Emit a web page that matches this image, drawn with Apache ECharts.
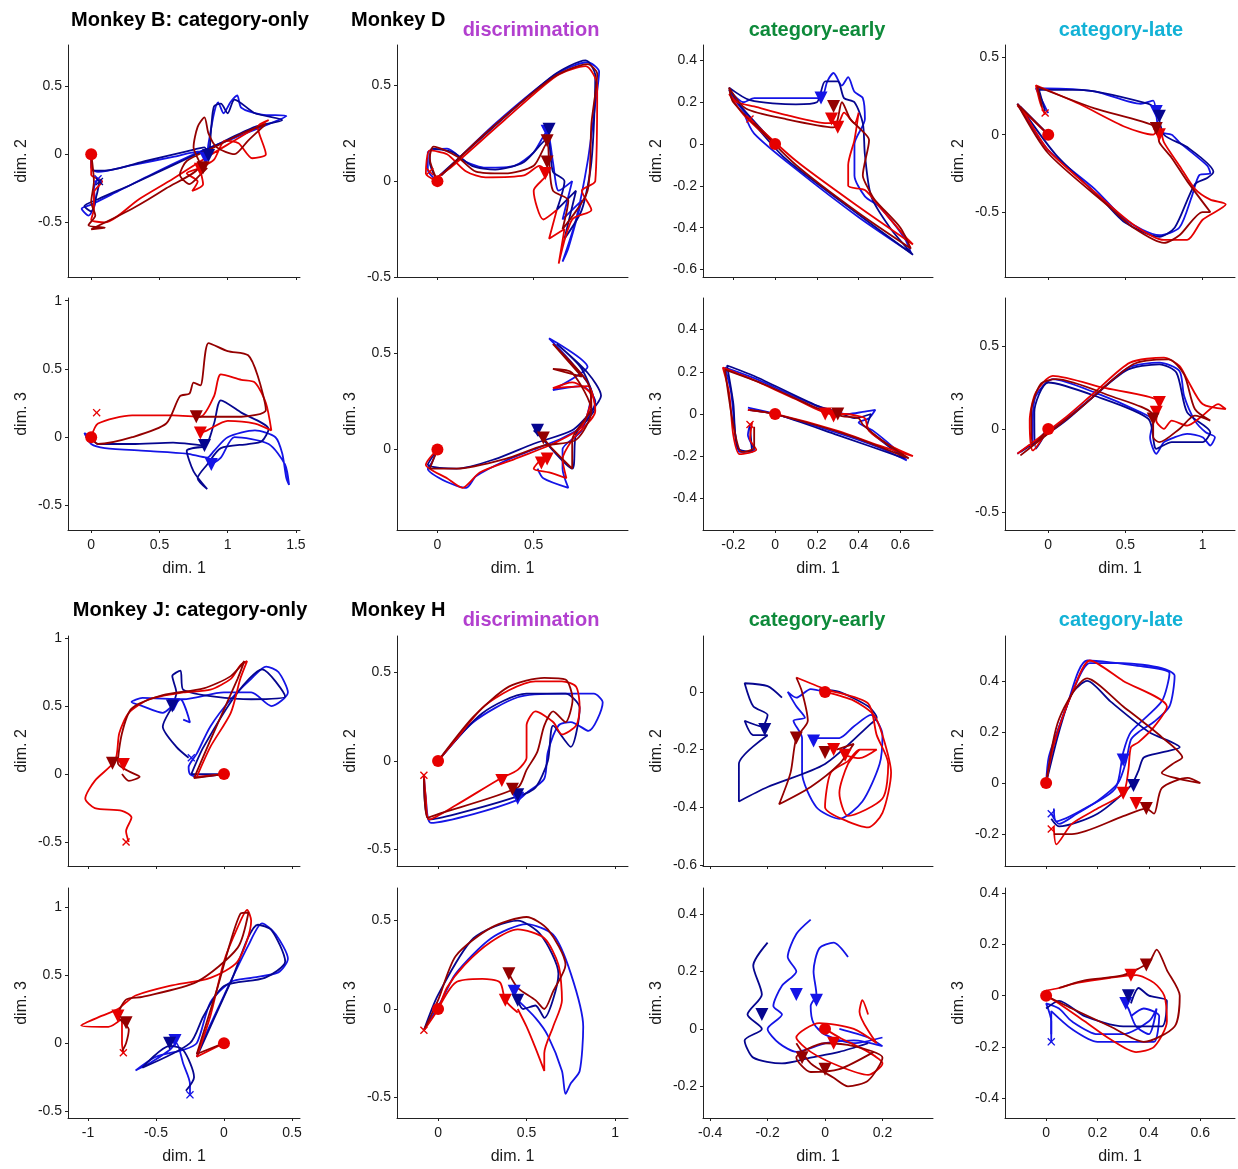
<!DOCTYPE html>
<html>
<head>
<meta charset="utf-8">
<script src="https://cdn.jsdelivr.net/npm/echarts@6/dist/echarts.min.js"></script>
<style>
  html, body { margin: 0; padding: 0; background: #fff; }
  #chart { width: 1238px; height: 1169px; }
</style>
</head>
<body>
<div id="chart"></div>
<script>
// ---- trajectories (dim. x, dim. y) ----
// Monkey B, dims 1-2
const r1c1_blue = [[0,0],[0,-0.1],[0.05,-0.13],[0.3,-0.08],[0.6,-0.02],[0.8,0.02],[0.84,-0.03],[0.86,0.08],[0.9,0.3],[0.93,0.38],[0.97,0.3],[1.02,0.38],[1.07,0.43],[1.1,0.34],[1.25,0.29],[1.43,0.28],[1.3,0.22],[1.05,0.12],[0.8,0.02],[0.5,-0.12],[0.2,-0.27],[0,-0.37],[-0.07,-0.4],[-0.02,-0.45],[0.03,-0.35],[0.02,-0.25],[0.05,-0.18]];
const r1c1_navy = [[0,0],[0.01,-0.12],[0.1,-0.12],[0.4,-0.05],[0.7,0.02],[0.83,0.05],[0.86,-0.02],[0.88,0.2],[0.9,0.35],[0.95,0.37],[1.0,0.3],[1.05,0.4],[1.2,0.3],[1.4,0.25],[1.2,0.2],[0.9,0.06],[0.6,-0.08],[0.3,-0.22],[0.05,-0.33],[-0.05,-0.38],[0,-0.42],[0.04,-0.3],[0.06,-0.2]];
const r1c1_red = [[0,0],[0,-0.15],[0.08,-0.2],[0.02,-0.28],[0.02,-0.4],[0,-0.48],[0.1,-0.5],[0.35,-0.33],[0.6,-0.18],[0.85,-0.02],[1.05,0.1],[1.25,0.22],[1.3,0.25],[1.22,0.2],[1.28,0.0],[1.18,-0.03],[1.08,0.08],[0.98,0.1],[0.9,-0.04],[0.8,-0.1],[0.7,-0.14],[0.78,-0.2],[0.74,-0.27],[0.82,-0.22],[0.8,-0.12]];
const r1c1_dred = [[0,0],[0.02,-0.2],[0,-0.35],[0.03,-0.45],[-0.02,-0.52],[0.1,-0.54],[0,-0.55],[0.3,-0.4],[0.55,-0.25],[0.8,-0.08],[0.75,0.05],[0.78,0.2],[0.83,0.27],[0.86,0.15],[0.92,0.05],[1.05,0.0],[1.15,0.1],[1.28,0.22],[1.1,0.15],[0.9,0.05],[0.7,-0.05],[0.65,-0.15],[0.72,-0.22],[0.8,-0.15],[0.85,-0.1]];
const r1c1_tri = [[0.84,-0.03,'b'],[0.86,-0.01,'n'],[0.8,-0.11,'r'],[0.82,-0.1,'d']];
const r1c1_x = [[0.05,-0.18,'b'],[0.06,-0.2,'n']];

// Monkey B, dims 1-3
const r2c1_blue = [[0,0],[-0.05,0.03],[0,-0.05],[0.1,-0.08],[0.4,-0.1],[0.7,-0.12],[0.85,-0.15],[0.9,-0.1],[1.0,0.0],[1.2,0.05],[1.35,0.0],[1.4,-0.12],[1.43,-0.3],[1.45,-0.35],[1.42,-0.2],[1.3,-0.05],[1.05,0.0],[0.95,-0.15],[0.88,-0.2]];
const r2c1_navy = [[0,0],[0.05,-0.05],[0.3,-0.05],[0.6,-0.04],[0.83,-0.06],[0.9,0.1],[0.95,0.27],[1.1,0.18],[1.3,0.06],[1.25,-0.03],[1.15,-0.05],[0.95,-0.08],[0.85,-0.2],[0.78,-0.3],[0.85,-0.38],[0.75,-0.25],[0.7,-0.1],[0.83,-0.07]];
const r2c1_red = [[0,0],[0.05,0.1],[0.3,0.16],[0.6,0.16],[0.8,0.15],[0.9,0.3],[0.95,0.46],[1.1,0.42],[1.2,0.4],[1.28,0.25],[1.32,0.05],[1.2,0.1],[1.0,0.12],[0.85,0.05],[0.8,0.03]];
const r2c1_dred = [[0,0],[0.05,-0.05],[0.3,0.0],[0.55,0.1],[0.65,0.3],[0.72,0.32],[0.75,0.4],[0.8,0.38],[0.86,0.69],[1.0,0.63],[1.15,0.6],[1.22,0.45],[1.28,0.2],[1.1,0.15],[0.9,0.15],[0.77,0.15]];
const r2c1_tri = [[0.88,-0.2,'b'],[0.83,-0.06,'n'],[0.8,0.03,'r'],[0.77,0.15,'d']];
const r2c1_x = [[0.04,0.18,'r']];

// Monkey D discrimination, dims 1-2
const r1c2_blue = [[0,0],[-0.05,0.06],[-0.05,0.15],[0.05,0.17],[0.15,0.1],[0.25,0.07],[0.4,0.08],[0.5,0.15],[0.57,0.26],[0.6,0.1],[0.63,-0.05],[0.7,0.0],[0.65,-0.2],[0.75,-0.1],[0.68,-0.35],[0.65,-0.42],[0.72,-0.2],[0.78,0.1],[0.82,0.4],[0.84,0.57],[0.78,0.62],[0.62,0.56],[0.3,0.3],[0.05,0.06],[0.02,0.03]];
const r1c2_navy = [[0,0],[-0.04,0.1],[-0.03,0.17],[0.08,0.15],[0.18,0.08],[0.3,0.06],[0.45,0.1],[0.57,0.22],[0.6,0.05],[0.66,0.0],[0.62,-0.15],[0.72,-0.05],[0.66,-0.3],[0.75,-0.15],[0.8,0.1],[0.82,0.55],[0.77,0.63],[0.6,0.55],[0.2,0.2],[0,0.02]];
const r1c2_red = [[0,0],[-0.06,0.04],[-0.04,0.16],[0.05,0.14],[0.15,0.05],[0.25,0.02],[0.45,0.03],[0.53,0.08],[0.57,0.04],[0.5,-0.05],[0.55,-0.2],[0.62,-0.15],[0.58,-0.3],[0.66,-0.25],[0.63,-0.43],[0.7,-0.2],[0.8,-0.15],[0.75,-0.05],[0.82,0.0],[0.83,0.5],[0.77,0.6],[0.62,0.55],[0.35,0.32],[0.08,0.08],[0,0.02]];
const r1c2_dred = [[0,0],[-0.04,0.12],[-0.02,0.18],[0.1,0.13],[0.2,0.05],[0.35,0.04],[0.5,0.08],[0.57,0.2],[0.58,0.1],[0.6,-0.05],[0.68,-0.1],[0.65,-0.25],[0.78,-0.05],[0.8,0.3],[0.83,0.56],[0.78,0.61],[0.6,0.54],[0.25,0.25],[0.02,0.03]];
const r1c2_tri = [[0.57,0.26,'b'],[0.58,0.27,'n'],[0.57,0.21,'d'],[0.57,0.1,'d'],[0.56,0.04,'r']];
const r1c2_x = [[-0.04,0.05,'r']];

// Monkey D discrimination, dims 1-3
const r2c2_blue = [[0,0],[-0.03,-0.07],[-0.05,-0.1],[0.05,-0.17],[0.15,-0.2],[0.2,-0.14],[0.35,-0.06],[0.5,0.0],[0.65,0.06],[0.75,0.12],[0.82,0.25],[0.75,0.33],[0.6,0.31],[0.72,0.38],[0.78,0.43],[0.58,0.58],[0.7,0.45],[0.8,0.3],[0.75,0.1],[0.65,0.0],[0.65,-0.1],[0.68,-0.2],[0.55,-0.15],[0.52,-0.1]];
const r2c2_navy = [[0,0],[-0.05,-0.08],[0.1,-0.1],[0.3,-0.05],[0.5,0.03],[0.7,0.1],[0.8,0.2],[0.85,0.28],[0.78,0.4],[0.62,0.55],[0.75,0.42],[0.82,0.22],[0.72,0.08],[0.7,-0.1],[0.55,0.05],[0.5,0.1]];
const r2c2_red = [[0,0],[-0.06,-0.08],[0.05,-0.15],[0.13,-0.2],[0.22,-0.12],[0.4,-0.05],[0.6,0.03],[0.75,0.12],[0.8,0.28],[0.7,0.35],[0.6,0.32],[0.78,0.33],[0.82,0.2],[0.7,0.05],[0.65,-0.05],[0.67,-0.15],[0.58,-0.12],[0.5,-0.1],[0.55,-0.04]];
const r2c2_dred = [[0,0],[-0.04,-0.1],[0.1,-0.1],[0.35,-0.05],[0.55,0.02],[0.72,0.05],[0.8,0.2],[0.7,0.4],[0.6,0.42],[0.75,0.38],[0.6,0.55],[0.78,0.35],[0.8,0.22],[0.7,0.05],[0.7,-0.1],[0.6,0.0],[0.55,0.06]];
const r2c2_tri = [[0.52,0.1,'n'],[0.55,0.06,'d'],[0.57,-0.05,'r'],[0.54,-0.07,'r']];
const r2c2_x = [];

// Monkey D category-early, dims 1-2
const r1c3_blue = [[0,0],[-0.1,0.1],[-0.2,0.22],[-0.22,0.26],[-0.15,0.2],[-0.1,0.22],[0.1,0.22],[0.22,0.22],[0.25,0.3],[0.28,0.34],[0.32,0.28],[0.35,0.32],[0.38,0.25],[0.42,0.22],[0.43,0.12],[0.38,0.0],[0.38,-0.15],[0.43,-0.25],[0.5,-0.3],[0.62,-0.45],[0.65,-0.52],[0.4,-0.35],[0.1,-0.12],[-0.1,0.05],[-0.15,0.15]];
const r1c3_navy = [[0,0],[-0.18,0.2],[-0.22,0.27],[-0.12,0.21],[0.1,0.19],[0.2,0.2],[0.24,0.3],[0.3,0.3],[0.33,0.22],[0.38,0.2],[0.42,0.1],[0.43,-0.05],[0.46,-0.25],[0.55,-0.4],[0.66,-0.53],[0.35,-0.3],[0.05,-0.07],[-0.12,0.12]];
const r1c3_red = [[0,0],[-0.15,0.14],[-0.22,0.24],[-0.18,0.2],[-0.1,0.18],[0.05,0.14],[0.25,0.1],[0.3,0.1],[0.33,0.15],[0.38,0.1],[0.4,0.15],[0.38,0.02],[0.35,-0.1],[0.35,-0.2],[0.43,-0.22],[0.5,-0.3],[0.63,-0.45],[0.66,-0.48],[0.4,-0.3],[0.1,-0.08],[-0.12,0.12]];
const r1c3_dred = [[0,0],[-0.2,0.2],[-0.22,0.27],[-0.14,0.17],[0.05,0.12],[0.28,0.08],[0.32,0.2],[0.36,0.12],[0.4,0.08],[0.45,0.02],[0.42,-0.15],[0.45,-0.22],[0.48,-0.27],[0.6,-0.4],[0.65,-0.5],[0.4,-0.33],[0.1,-0.1],[-0.1,0.1]];
const r1c3_tri = [[0.22,0.22,'b'],[0.28,0.18,'d'],[0.27,0.12,'r'],[0.3,0.08,'r']];
const r1c3_x = [[-0.12,0.12,'r']];

// Monkey D category-early, dims 1-3
const r2c3_blue = [[-0.13,0.03],[0,0],[0.3,-0.09],[0.5,-0.16],[0.63,-0.22],[0.58,-0.17],[0.47,-0.08],[0.4,-0.04],[0.45,-0.02],[0.48,0.02],[0.42,0.01],[0.35,0.0],[0.25,0.02],[0.1,0.08],[-0.1,0.17],[-0.24,0.22],[-0.21,0.1],[-0.19,-0.1],[-0.17,-0.18],[-0.1,-0.17],[-0.13,-0.1],[-0.12,-0.05]];
const r2c3_navy = [[-0.13,0.02],[0,0],[0.3,-0.1],[0.62,-0.21],[0.5,-0.12],[0.44,-0.06],[0.46,0.0],[0.38,-0.02],[0.3,0.01],[0.2,0.04],[-0.1,0.18],[-0.23,0.23],[-0.2,0.05],[-0.18,-0.16],[-0.11,-0.18],[-0.12,-0.06]];
const r2c3_red = [[-0.13,0.02],[0,0],[0.3,-0.08],[0.5,-0.15],[0.66,-0.2],[0.55,-0.15],[0.45,-0.08],[0.43,-0.02],[0.4,-0.01],[0.34,0.0],[0.27,0.0],[0.1,0.07],[-0.1,0.16],[-0.25,0.22],[-0.22,0.1],[-0.2,-0.1],[-0.17,-0.19],[-0.09,-0.17],[-0.12,-0.12],[-0.11,-0.04]];
const r2c3_dred = [[-0.12,0.02],[0,0],[0.35,-0.1],[0.64,-0.21],[0.52,-0.13],[0.42,-0.05],[0.4,-0.02],[0.32,-0.01],[0.22,0.02],[-0.05,0.14],[-0.24,0.21],[-0.2,-0.05],[-0.16,-0.18],[-0.1,-0.16],[-0.1,-0.06]];
const r2c3_tri = [[0.24,0.0,'r'],[0.28,-0.01,'r'],[0.3,0.0,'d']];
const r2c3_x = [[-0.12,-0.05,'r']];

// Monkey D category-late, dims 1-2
const r1c4_blue = [[0,0],[-0.2,0.2],[-0.15,0.12],[0,-0.1],[0.3,-0.35],[0.5,-0.55],[0.72,-0.65],[0.85,-0.6],[0.93,-0.4],[0.98,-0.26],[1.05,-0.25],[1.03,-0.2],[0.85,-0.05],[0.8,0.0],[0.72,0.02],[0.7,0.13],[0.68,0.22],[0.6,0.2],[0.3,0.28],[-0.02,0.3],[-0.08,0.3],[-0.03,0.2],[0,0.14]];
const r1c4_navy = [[0,0],[-0.18,0.18],[0.05,-0.13],[0.35,-0.42],[0.5,-0.57],[0.72,-0.66],[0.82,-0.6],[0.95,-0.32],[1.03,-0.28],[1.07,-0.24],[0.9,-0.08],[0.75,0.0],[0.7,0.16],[0.65,0.2],[0.2,0.29],[-0.06,0.29],[-0.02,0.15]];
const r1c4_red = [[0,0],[-0.2,0.19],[-0.15,0.13],[0,-0.1],[0.3,-0.37],[0.55,-0.58],[0.75,-0.68],[0.9,-0.68],[1.0,-0.55],[1.15,-0.45],[1.05,-0.42],[0.95,-0.35],[0.85,-0.2],[0.75,-0.05],[0.72,0.05],[0.68,0.0],[0.5,0.05],[0.2,0.2],[-0.08,0.32],[-0.05,0.2],[-0.02,0.13]];
const r1c4_dred = [[0,0],[-0.2,0.2],[0,-0.12],[0.4,-0.47],[0.55,-0.6],[0.75,-0.7],[0.85,-0.65],[1.0,-0.5],[1.05,-0.5],[0.9,-0.3],[0.8,-0.15],[0.72,-0.05],[0.7,0.05],[0.3,0.17],[-0.07,0.31],[-0.04,0.18]];
const r1c4_tri = [[0.7,0.15,'b'],[0.72,0.12,'n'],[0.72,0.0,'r'],[0.7,0.04,'d']];
const r1c4_x = [[-0.02,0.14,'r']];

// Monkey D category-late, dims 1-3
const r2c4_blue = [[0,0],[-0.1,-0.1],[-0.1,0.05],[-0.08,0.2],[0.03,0.3],[0.3,0.22],[0.6,0.1],[0.68,0.05],[0.66,-0.05],[0.7,-0.15],[0.75,-0.08],[0.82,-0.05],[0.9,-0.03],[1.0,-0.05],[1.05,-0.1],[1.08,-0.05],[1.02,-0.02],[0.95,0.05],[0.88,0.2],[0.85,0.35],[0.72,0.4],[0.52,0.37],[0.3,0.2],[0.1,0.05],[-0.2,-0.15]];
const r2c4_navy = [[0,0],[-0.08,-0.12],[-0.09,0.1],[0.0,0.28],[0.3,0.2],[0.65,0.06],[0.7,-0.12],[0.8,-0.08],[1.0,-0.08],[1.05,-0.02],[0.9,0.1],[0.83,0.34],[0.72,0.39],[0.5,0.35],[0.1,0.04],[-0.18,-0.14]];
const r2c4_red = [[0,0],[-0.1,-0.13],[-0.12,0.05],[-0.08,0.22],[0.03,0.32],[0.35,0.25],[0.72,0.16],[0.7,0.05],[0.75,0.0],[0.8,0.05],[0.9,0.02],[1.0,0.08],[1.1,0.15],[1.15,0.12],[1.0,0.15],[0.9,0.3],[0.85,0.38],[0.75,0.43],[0.53,0.4],[0.3,0.22],[0.1,0.06],[-0.2,-0.15]];
const r2c4_dred = [[0,0],[-0.1,-0.1],[-0.11,0.1],[-0.05,0.27],[0.05,0.3],[0.4,0.2],[0.68,0.08],[0.68,-0.05],[0.72,-0.08],[0.85,0.0],[0.95,0.08],[1.05,0.05],[0.95,0.12],[0.88,0.33],[0.78,0.42],[0.55,0.39],[0.2,0.12],[-0.18,-0.16]];
const r2c4_tri = [[0.72,0.16,'r'],[0.7,0.1,'r'],[0.68,0.06,'d']];
const r2c4_x = [];

// Monkey J category-only, dims 1-2
const r3c1_blue = [[0,0],[-0.2,-0.02],[-0.25,0.0],[-0.26,0.05],[-0.2,0.15],[-0.1,0.35],[0.05,0.55],[0.2,0.7],[0.31,0.79],[0.4,0.75],[0.47,0.6],[0.35,0.5],[0.2,0.6],[0,0.6],[-0.3,0.55],[-0.6,0.56],[-0.68,0.53],[-0.6,0.5],[-0.45,0.45],[-0.38,0.5],[-0.32,0.55],[-0.25,0.38],[-0.3,0.4]];
const r3c1_navy = [[0,0],[-0.24,0.0],[-0.15,0.2],[0.1,0.6],[0.28,0.77],[0.45,0.57],[0.2,0.55],[-0.3,0.62],[-0.32,0.76],[-0.38,0.72],[-0.35,0.6],[-0.38,0.5],[-0.45,0.35],[-0.35,0.2],[-0.26,0.12]];
const r3c1_red = [[0,0],[-0.2,-0.02],[-0.1,0.2],[0.05,0.45],[0.12,0.7],[0.17,0.83],[0.12,0.8],[0.05,0.7],[-0.1,0.62],[-0.3,0.6],[-0.55,0.55],[-0.7,0.45],[-0.77,0.3],[-0.8,0.1],[-0.95,-0.05],[-1.02,-0.18],[-0.95,-0.25],[-0.75,-0.27],[-0.68,-0.32],[-0.72,-0.42],[-0.7,-0.5]];
const r3c1_dred = [[0,0],[-0.22,-0.03],[-0.1,0.25],[0.1,0.7],[0.15,0.83],[0.05,0.72],[-0.15,0.63],[-0.45,0.58],[-0.68,0.48],[-0.75,0.3],[-0.78,0.08],[-0.7,0.02],[-0.62,-0.02],[-0.7,-0.05],[-0.75,0.0]];
const r3c1_tri = [[-0.37,0.51,'b'],[-0.38,0.5,'n'],[-0.74,0.07,'r'],[-0.82,0.08,'d']];
const r3c1_x = [[-0.24,0.12,'b'],[-0.72,-0.5,'r']];

// Monkey J category-only, dims 1-3
const r4c1_blue = [[-0.2,-0.08],[0,0.35],[0.18,0.72],[0.28,0.88],[0.38,0.8],[0.47,0.62],[0.4,0.52],[0.2,0.48],[0.05,0.45],[-0.1,0.3],[-0.2,0],[-0.3,-0.05],[-0.5,-0.1],[-0.65,-0.2],[-0.55,-0.15],[-0.4,-0.05],[-0.35,0],[-0.3,-0.15],[-0.25,-0.3],[-0.25,-0.38]];
const r4c1_navy = [[-0.2,-0.1],[0.05,0.45],[0.25,0.87],[0.35,0.83],[0.45,0.6],[0.3,0.48],[0,0.42],[-0.15,0.2],[-0.25,0],[-0.6,-0.18],[-0.4,-0.02],[-0.3,-0.05],[-0.22,-0.25],[-0.28,-0.35]];
const r4c1_red = [[0,0],[-0.2,-0.1],[-0.1,0.2],[0,0.6],[0.1,0.85],[0.17,0.98],[0.2,0.9],[0.1,0.6],[-0.1,0.48],[-0.4,0.42],[-0.65,0.35],[-0.72,0.3],[-0.78,0.25],[-0.9,0.2],[-1.05,0.13],[-0.85,0.12],[-0.75,0.18],[-0.75,0],[-0.74,-0.07]];
const r4c1_dred = [[0,0],[-0.2,-0.08],[-0.05,0.4],[0.12,0.95],[0.18,0.96],[0.1,0.7],[-0.2,0.45],[-0.6,0.34],[-0.72,0.32],[-0.78,0.2],[-0.7,0.1],[-0.72,0],[-0.75,-0.06]];
const r4c1_tri = [[-0.36,0.02,'b'],[-0.4,0.0,'n'],[-0.78,0.2,'r'],[-0.72,0.15,'d']];
const r4c1_x = [[-0.25,-0.38,'b'],[-0.74,-0.07,'r']];

// Monkey H discrimination, dims 1-2
const r3c2_blue = [[0,0],[0.2,0.22],[0.45,0.36],[0.7,0.38],[0.88,0.38],[0.93,0.33],[0.85,0.17],[0.75,0.22],[0.68,0.2],[0.62,0.05],[0.6,-0.1],[0.5,-0.18],[0.45,-0.22],[0.2,-0.3],[-0.04,-0.35],[-0.07,-0.2],[-0.08,-0.08]];
const r3c2_navy = [[0,0],[0.25,0.27],[0.5,0.38],[0.72,0.38],[0.8,0.3],[0.75,0.08],[0.65,0.2],[0.62,0],[0.55,-0.15],[0.45,-0.2],[0.1,-0.3],[-0.05,-0.33],[-0.08,-0.1]];
const r3c2_red = [[0,0],[0.1,0.12],[0.25,0.3],[0.4,0.4],[0.55,0.45],[0.7,0.45],[0.78,0.42],[0.8,0.3],[0.78,0.2],[0.7,0.15],[0.65,0.22],[0.55,0.28],[0.5,0.2],[0.5,0.02],[0.45,-0.05],[0.35,-0.1],[0.1,-0.25],[-0.05,-0.33],[-0.07,-0.2],[-0.08,-0.08]];
const r3c2_dred = [[0,0],[0.2,0.25],[0.4,0.42],[0.6,0.47],[0.72,0.46],[0.76,0.35],[0.72,0.22],[0.65,0.28],[0.6,0.2],[0.56,0.05],[0.5,-0.05],[0.45,-0.15],[0,-0.3],[-0.06,-0.32],[-0.08,-0.1]];
const r3c2_tri = [[0.45,-0.21,'b'],[0.45,-0.19,'n'],[0.36,-0.11,'r'],[0.42,-0.16,'d']];
const r3c2_x = [[-0.08,-0.08,'r']];

// Monkey H discrimination, dims 1-3
const r4c2_blue = [[-0.08,-0.12],[0.02,0.05],[0.1,0.2],[0.3,0.4],[0.5,0.48],[0.65,0.42],[0.75,0.2],[0.82,-0.1],[0.8,-0.35],[0.75,-0.42],[0.72,-0.48],[0.7,-0.35],[0.62,-0.15],[0.55,-0.05],[0.45,0.05]];
const r4c2_navy = [[-0.08,-0.12],[0,0.08],[0.2,0.4],[0.45,0.5],[0.58,0.42],[0.68,0.2],[0.6,-0.05],[0.55,0.02],[0.48,0],[0.45,0.05]];
const r4c2_red = [[-0.08,-0.12],[0,0],[0.05,0.12],[0.15,0.25],[0.3,0.38],[0.45,0.45],[0.6,0.4],[0.68,0.25],[0.7,0.05],[0.65,-0.1],[0.6,-0.25],[0.6,-0.35],[0.55,-0.22],[0.5,-0.1],[0.45,0]];
const r4c2_red2 = [[0,0],[0.1,0.15],[0.25,0.17],[0.35,0.15],[0.38,0.05],[0.45,-0.02]];
const r4c2_dred = [[-0.08,-0.12],[0,0.05],[0.1,0.3],[0.3,0.46],[0.5,0.52],[0.62,0.45],[0.72,0.25],[0.65,0.1],[0.6,0],[0.55,0.05],[0.45,0.12],[0.4,0.2]];
const r4c2_tri = [[0.43,0.1,'b'],[0.45,0.05,'n'],[0.38,0.05,'r'],[0.4,0.2,'d']];
const r4c2_x = [[-0.08,-0.12,'r']];

// Monkey H category-early, dims 1-2
const r3c3_blue = [[0,0],[-0.05,0.01],[-0.1,-0.02],[-0.13,0],[-0.1,-0.05],[-0.07,-0.09],[-0.11,-0.1],[-0.08,-0.16],[-0.08,-0.28],[-0.03,-0.4],[0.05,-0.44],[0.13,-0.38],[0.19,-0.25],[0.2,-0.15],[0.16,-0.08],[0.1,-0.12],[0.05,-0.16],[-0.04,-0.16]];
const r3c3_navy = [[-0.15,-0.02],[-0.2,0.02],[-0.28,0.03],[-0.25,-0.05],[-0.2,-0.08],[-0.22,-0.12],[-0.28,-0.1],[-0.25,-0.15],[-0.2,-0.15],[-0.3,-0.25],[-0.3,-0.38],[-0.2,-0.33],[0,-0.25],[0.16,-0.11],[0.18,-0.09],[0.15,-0.05],[0.05,0],[-0.02,0.01]];
const r3c3_red = [[0,0],[0.1,-0.03],[0.17,-0.08],[0.2,-0.15],[0.23,-0.28],[0.2,-0.42],[0.15,-0.47],[0.08,-0.45],[0,-0.4],[0.02,-0.28],[0.08,-0.24],[0.12,-0.2],[0.18,-0.2],[0.12,-0.23],[0.07,-0.22]];
const r3c3_red2 = [[-0.1,0.05],[0,0.01],[0.15,-0.04],[0.18,-0.15],[0.22,-0.25],[0.2,-0.37],[0.08,-0.43],[0.05,-0.35],[0.08,-0.25],[0.12,-0.2]];
const r3c3_dred = [[-0.1,0.05],[-0.08,0],[-0.06,-0.1],[-0.1,-0.16],[-0.12,-0.28],[-0.16,-0.39],[-0.05,-0.33],[0.05,-0.25],[0.1,-0.18],[0.04,-0.2]];
const r3c3_tri = [[-0.21,-0.13,'n'],[-0.04,-0.17,'b'],[-0.1,-0.16,'d'],[0.0,-0.21,'d'],[0.03,-0.2,'r'],[0.07,-0.22,'r']];
const r3c3_x = [];

// Monkey H category-early, dims 1-3
const r4c3_blue = [[-0.05,0.38],[-0.1,0.33],[-0.13,0.25],[-0.1,0.2],[-0.15,0.15],[-0.18,0.08],[-0.15,0.05],[-0.2,0],[-0.16,-0.05],[-0.1,-0.08],[0,-0.05],[0.1,-0.04],[0.2,-0.06],[0.15,-0.03],[0.05,0]];
const r4c3_blue2 = [[0.08,0.25],[0.03,0.3],[-0.02,0.28],[-0.04,0.2],[-0.03,0.12],[-0.05,0.08],[-0.04,0.02],[0,-0.02],[0.1,-0.05],[0.2,-0.03]];
const r4c3_navy = [[-0.2,0.3],[-0.25,0.22],[-0.22,0.12],[-0.27,0.05],[-0.22,0],[-0.28,-0.04],[-0.25,-0.1],[-0.15,-0.12],[-0.05,-0.1],[0.05,-0.08],[0.15,-0.05]];
const r4c3_red = [[0,0],[0.05,-0.03],[0.15,-0.08],[0.2,-0.12],[0.15,-0.16],[0.05,-0.13],[-0.05,-0.08],[-0.1,-0.03],[-0.02,0.02],[0.1,0],[0.18,-0.05],[0.12,0.06],[0.13,0.1],[0.15,0.05]];
const r4c3_dred = [[-0.1,-0.05],[-0.05,-0.12],[0.03,-0.17],[0.08,-0.2],[0.15,-0.18],[0.2,-0.1],[0.1,-0.06],[0,-0.05],[-0.1,-0.1],[-0.05,-0.15],[0.05,-0.14],[0.17,-0.08]];
const r4c3_tri = [[-0.22,0.05,'n'],[-0.1,0.12,'b'],[-0.03,0.1,'b'],[0.03,-0.05,'r'],[-0.08,-0.1,'d'],[0.0,-0.14,'d']];
const r4c3_x = [];

// Monkey H category-late, dims 1-2
const r3c4_blue = [[0,0],[0.01,0.1],[0.05,0.22],[0.1,0.35],[0.17,0.47],[0.3,0.47],[0.45,0.45],[0.5,0.42],[0.48,0.3],[0.42,0.24],[0.36,0.2],[0.33,0.17],[0.31,0.08],[0.28,0],[0.2,-0.07],[0.12,-0.12],[0.05,-0.16],[0.02,-0.12]];
const r3c4_blue2 = [[0,0],[0.03,0.15],[0.08,0.3],[0.16,0.48],[0.35,0.46],[0.48,0.43],[0.45,0.32],[0.33,0.2],[0.3,0.12],[0.27,-0.02],[0.15,-0.1],[0.04,-0.15],[0.03,-0.1]];
const r3c4_navy = [[0,0],[0.05,0.2],[0.1,0.35],[0.16,0.4],[0.25,0.32],[0.4,0.2],[0.52,0.14],[0.45,0.12],[0.38,0.1],[0.36,0.05],[0.33,-0.01],[0.2,-0.12],[0.05,-0.17],[0.02,-0.14]];
const r3c4_red = [[0,0],[0.03,0.15],[0.1,0.35],[0.17,0.48],[0.3,0.4],[0.47,0.3],[0.42,0.22],[0.36,0.16],[0.33,0.14],[0.32,0.05],[0.3,-0.04],[0.2,-0.1],[0.1,-0.16],[0.04,-0.24],[0.03,-0.17]];
const r3c4_dred = [[0,0],[0.05,0.25],[0.16,0.41],[0.3,0.3],[0.45,0.18],[0.53,0.1],[0.5,0.08],[0.45,0.04],[0.6,0],[0.55,0.02],[0.45,-0.02],[0.42,-0.12],[0.39,-0.1],[0.3,-0.13],[0.1,-0.2],[0.03,-0.2]];
const r3c4_tri = [[0.3,0.09,'b'],[0.34,-0.01,'n'],[0.3,-0.04,'r'],[0.35,-0.08,'r'],[0.39,-0.1,'d']];
const r3c4_x = [[0.02,-0.12,'b'],[0.02,-0.18,'r']];

// Monkey H category-late, dims 1-3
const r4c4_blue = [[0.02,-0.18],[0.02,-0.1],[0,-0.03],[0.05,-0.05],[0.1,-0.1],[0.2,-0.15],[0.3,-0.15],[0.4,-0.1],[0.43,-0.05],[0.4,-0.15],[0.35,-0.12],[0.32,-0.05],[0.3,-0.02]];
const r4c4_blue2 = [[0.02,-0.15],[0.02,-0.06],[0.1,-0.13],[0.2,-0.18],[0.35,-0.18],[0.42,-0.18],[0.44,-0.08],[0.38,-0.05],[0.33,-0.08]];
const r4c4_navy = [[0,-0.05],[0.05,-0.02],[0.15,-0.08],[0.3,-0.12],[0.45,-0.12],[0.47,-0.02],[0.4,0],[0.36,0.03],[0.33,-0.03]];
const r4c4_red = [[0,0],[0.05,-0.03],[0.15,-0.1],[0.25,-0.17],[0.35,-0.22],[0.42,-0.2],[0.47,-0.1],[0.46,0],[0.42,0.05],[0.35,0.08],[0.25,0.07],[0.12,0.05],[0.05,0.03],[0,0.02]];
const r4c4_dred = [[0,0],[0.1,-0.05],[0.25,-0.12],[0.38,-0.18],[0.5,-0.12],[0.52,0],[0.47,0.1],[0.43,0.18],[0.4,0.13],[0.3,0.08],[0.15,0.06],[0.05,0.03]];
const r4c4_tri = [[0.31,-0.03,'b'],[0.32,0.0,'n'],[0.33,0.08,'r'],[0.39,0.12,'d']];
const r4c4_x = [[0.02,-0.18,'b']];

// ---- tick labels ----
const ticksB_x = [0, 0.5, 1, 1.5];
const ticksJ_x = [-1, -0.5, 0, 0.5];
const ticksDisc_x = [0, 0.5];
const ticksDiscH_x = [0, 0.5, 1];
const ticksEarlyD_x = [-0.2, 0, 0.2, 0.4, 0.6];
const ticksEarlyH_x = [-0.4, -0.2, 0, 0.2];
const ticksLateD_x = [0, 0.5, 1];
const ticksLateH_x = [0, 0.2, 0.4, 0.6];
const ticksHalf = [-0.5, 0, 0.5];
const ticksHalfOne = [-0.5, 0, 0.5, 1];
const ticksDiscD13_y = [0, 0.5];
const ticksEarlyD12_y = [-0.6, -0.4, -0.2, 0, 0.2, 0.4];
const ticksEarlyD13_y = [-0.4, -0.2, 0, 0.2, 0.4];
const ticksEarlyH12_y = [-0.6, -0.4, -0.2, 0];
const ticksEarlyH13_y = [-0.2, 0, 0.2, 0.4];
const ticksLateH12_y = [-0.2, 0, 0.2, 0.4];
const ticksLateH13_y = [-0.4, -0.2, 0, 0.2, 0.4];

// ---- layout / style ----
const COLORS = { b: '#1414e6', n: '#06068f', r: '#e60000', d: '#940000' };
const FONT = '"Liberation Sans", Arial, Helvetica, sans-serif';
const cols = [{ left: 68, w: 232 }, { left: 397, w: 231 }, { left: 703, w: 230 }, { left: 1005, w: 230 }];
const rows = [{ top: 45, h: 232 }, { top: 298, h: 232 }, { top: 636, h: 230 }, { top: 888, h: 230 }];

const panels = [
  { r: 0, c: 0, x: [-0.17, 1.53], y: [-0.9, 0.8], xt: ticksB_x, yt: ticksHalf, dim: 2, lines: [[r1c1_blue,'b'],[r1c1_navy,'n'],[r1c1_red,'r'],[r1c1_dred,'d']], tri: r1c1_tri, xm: r1c1_x, start: [0, 0] },
  { r: 1, c: 0, x: [-0.17, 1.53], y: [-0.68, 1.02], xt: ticksB_x, yt: ticksHalfOne, dim: 3, lines: [[r2c1_blue,'b'],[r2c1_navy,'n'],[r2c1_red,'r'],[r2c1_dred,'d']], tri: r2c1_tri, xm: r2c1_x, start: [0, 0] },
  { r: 0, c: 1, x: [-0.21, 0.99], y: [-0.5, 0.71], xt: ticksDisc_x, yt: ticksHalf, dim: 2, lines: [[r1c2_blue,'b'],[r1c2_navy,'n'],[r1c2_red,'r'],[r1c2_dred,'d']], tri: r1c2_tri, xm: r1c2_x, start: [0, 0] },
  { r: 1, c: 1, x: [-0.21, 0.99], y: [-0.42, 0.79], xt: ticksDisc_x, yt: ticksDiscD13_y, dim: 3, lines: [[r2c2_blue,'b'],[r2c2_navy,'n'],[r2c2_red,'r'],[r2c2_dred,'d']], tri: r2c2_tri, xm: r2c2_x, start: [0, 0] },
  { r: 0, c: 2, x: [-0.345, 0.756], y: [-0.636, 0.474], xt: ticksEarlyD_x, yt: ticksEarlyD12_y, dim: 2, lines: [[r1c3_blue,'b'],[r1c3_navy,'n'],[r1c3_red,'r'],[r1c3_dred,'d']], tri: r1c3_tri, xm: r1c3_x, start: [0, 0] },
  { r: 1, c: 2, x: [-0.345, 0.756], y: [-0.55, 0.55], xt: ticksEarlyD_x, yt: ticksEarlyD13_y, dim: 3, lines: [[r2c3_blue,'b'],[r2c3_navy,'n'],[r2c3_red,'r'],[r2c3_dred,'d']], tri: r2c3_tri, xm: r2c3_x, start: [0, 0] },
  { r: 0, c: 3, x: [-0.28, 1.21], y: [-0.92, 0.58], xt: ticksLateD_x, yt: ticksHalf, dim: 2, lines: [[r1c4_blue,'b'],[r1c4_navy,'n'],[r1c4_red,'r'],[r1c4_dred,'d']], tri: r1c4_tri, xm: r1c4_x, start: [0, 0] },
  { r: 1, c: 3, x: [-0.28, 1.21], y: [-0.61, 0.79], xt: ticksLateD_x, yt: ticksHalf, dim: 3, lines: [[r2c4_blue,'b'],[r2c4_navy,'n'],[r2c4_red,'r'],[r2c4_dred,'d']], tri: r2c4_tri, xm: r2c4_x, start: [0, 0] },
  { r: 2, c: 0, x: [-1.147, 0.559], y: [-0.676, 1.015], xt: ticksJ_x, yt: ticksHalfOne, dim: 2, lines: [[r3c1_blue,'b'],[r3c1_navy,'n'],[r3c1_red,'r'],[r3c1_dred,'d']], tri: r3c1_tri, xm: r3c1_x, start: [0, 0] },
  { r: 3, c: 0, x: [-1.147, 0.559], y: [-0.55, 1.14], xt: ticksJ_x, yt: ticksHalfOne, dim: 3, lines: [[r4c1_blue,'b'],[r4c1_navy,'n'],[r4c1_red,'r'],[r4c1_dred,'d']], tri: r4c1_tri, xm: r4c1_x, start: [0, 0] },
  { r: 2, c: 1, x: [-0.232, 1.073], y: [-0.593, 0.706], xt: ticksDiscH_x, yt: ticksHalf, dim: 2, lines: [[r3c2_blue,'b'],[r3c2_navy,'n'],[r3c2_red,'r'],[r3c2_dred,'d']], tri: r3c2_tri, xm: r3c2_x, start: [0, 0] },
  { r: 3, c: 1, x: [-0.232, 1.073], y: [-0.616, 0.684], xt: ticksDiscH_x, yt: ticksHalf, dim: 3, lines: [[r4c2_blue,'b'],[r4c2_navy,'n'],[r4c2_red,'r'],[r4c2_red2,'r'],[r4c2_dred,'d']], tri: r4c2_tri, xm: r4c2_x, start: [0, 0] },
  { r: 2, c: 2, x: [-0.425, 0.376], y: [-0.604, 0.194], xt: ticksEarlyH_x, yt: ticksEarlyH12_y, dim: 2, lines: [[r3c3_blue,'b'],[r3c3_navy,'n'],[r3c3_red,'r'],[r3c3_red2,'r'],[r3c3_dred,'d']], tri: r3c3_tri, xm: r3c3_x, start: [0, 0] },
  { r: 3, c: 2, x: [-0.425, 0.376], y: [-0.31, 0.49], xt: ticksEarlyH_x, yt: ticksEarlyH13_y, dim: 3, lines: [[r4c3_blue,'b'],[r4c3_blue2,'b'],[r4c3_navy,'n'],[r4c3_red,'r'],[r4c3_dred,'d']], tri: r4c3_tri, xm: r4c3_x, start: [0, 0] },
  { r: 2, c: 3, x: [-0.16, 0.735], y: [-0.325, 0.576], xt: ticksLateH_x, yt: ticksLateH12_y, dim: 2, lines: [[r3c4_blue,'b'],[r3c4_blue2,'b'],[r3c4_navy,'n'],[r3c4_red,'r'],[r3c4_dred,'d']], tri: r3c4_tri, xm: r3c4_x, start: [0, 0] },
  { r: 3, c: 3, x: [-0.16, 0.735], y: [-0.477, 0.42], xt: ticksLateH_x, yt: ticksLateH13_y, dim: 3, lines: [[r4c4_blue,'b'],[r4c4_blue2,'b'],[r4c4_navy,'n'],[r4c4_red,'r'],[r4c4_dred,'d']], tri: r4c4_tri, xm: r4c4_x, start: [0, 0] }
];

const X_PATH = 'path://M0,1.2L1.2,0L5,3.8L8.8,0L10,1.2L6.2,5L10,8.8L8.8,10L5,6.2L1.2,10L0,8.8L3.8,5Z';
const labelStyle = { fontFamily: FONT, fontSize: 14, color: '#1a1a1a' };

const grid = [], xAxis = [], yAxis = [], series = [];
panels.forEach((p, i) => {
  const col = cols[p.c], row = rows[p.r];
  const bottomRow = p.r === 1 || p.r === 3;
  grid.push({ left: col.left, top: row.top, width: col.w, height: row.h });
  xAxis.push({
    type: 'value', gridIndex: i, min: p.x[0], max: p.x[1],
    name: bottomRow ? 'dim. 1' : '', nameLocation: 'middle', nameGap: 31,
    nameTextStyle: { fontFamily: FONT, fontSize: 16, color: '#1a1a1a' },
    axisLine: { show: true, onZero: false, lineStyle: { color: '#222', width: 1 } },
    axisTick: { show: true, customValues: p.xt, length: 3, lineStyle: { color: '#222' } },
    axisLabel: { show: bottomRow, customValues: p.xt, margin: 8, ...labelStyle },
    splitLine: { show: false }
  });
  yAxis.push({
    type: 'value', gridIndex: i, min: p.y[0], max: p.y[1],
    name: 'dim. ' + p.dim, nameLocation: 'middle', nameGap: 38, nameRotate: 90,
    nameTextStyle: { fontFamily: FONT, fontSize: 16, color: '#1a1a1a' },
    axisLine: { show: true, onZero: false, lineStyle: { color: '#222', width: 1 } },
    axisTick: { show: true, customValues: p.yt, length: 3, lineStyle: { color: '#222' } },
    axisLabel: { show: true, customValues: p.yt, margin: 6, ...labelStyle },
    splitLine: { show: false }
  });
  p.lines.forEach(([pts, k]) => {
    series.push({
      type: 'line', xAxisIndex: i, yAxisIndex: i, data: pts,
      showSymbol: false, smooth: 0.25, silent: true, clip: true,
      lineStyle: { color: COLORS[k], width: 1.8 }
    });
  });
  series.push({
    type: 'scatter', xAxisIndex: i, yAxisIndex: i, silent: true, z: 5,
    symbol: 'triangle', symbolRotate: 180, symbolSize: 13,
    data: p.tri.map(t => ({ value: [t[0], t[1]], itemStyle: { color: COLORS[t[2]], opacity: 1 } }))
  });
  series.push({
    type: 'scatter', xAxisIndex: i, yAxisIndex: i, silent: true, z: 5,
    symbol: X_PATH, symbolSize: 8,
    data: p.xm.map(t => ({ value: [t[0], t[1]], itemStyle: { color: COLORS[t[2]], opacity: 1 } }))
  });
  series.push({
    type: 'scatter', xAxisIndex: i, yAxisIndex: i, silent: true, z: 6,
    symbol: 'circle', symbolSize: 12, itemStyle: { color: COLORS.r, opacity: 1 },
    data: [p.start]
  });
});

const titleBold = { fontFamily: FONT, fontSize: 20, fontWeight: 'bold', color: '#000' };
const titleCond = (color) => ({ fontFamily: FONT, fontSize: 20, fontWeight: 'bold', color });
const titles = [];
[{ y: 0, monkeyA: 'Monkey B: category-only', monkeyB: 'Monkey D' }, { y: 590, monkeyA: 'Monkey J: category-only', monkeyB: 'Monkey H' }]
  .forEach(t => {
    titles.push({ text: t.monkeyA, left: 190, top: t.y + 10, padding: 0, textAlign: 'center', textStyle: titleBold });
    titles.push({ text: t.monkeyB, left: 351, top: t.y + 10, padding: 0, textStyle: titleBold });
    titles.push({ text: 'discrimination', left: 531, top: t.y + 20, padding: 0, textAlign: 'center', textStyle: titleCond('#b23fcf') });
    titles.push({ text: 'category-early', left: 817, top: t.y + 20, padding: 0, textAlign: 'center', textStyle: titleCond('#0e8a3a') });
    titles.push({ text: 'category-late', left: 1121, top: t.y + 20, padding: 0, textAlign: 'center', textStyle: titleCond('#13b2d6') });
  });

const chart = echarts.init(document.getElementById('chart'), null, { renderer: 'canvas' });
chart.setOption({
  animation: false,
  backgroundColor: '#fff',
  title: titles,
  grid, xAxis, yAxis, series
});
</script>
</body>
</html>
